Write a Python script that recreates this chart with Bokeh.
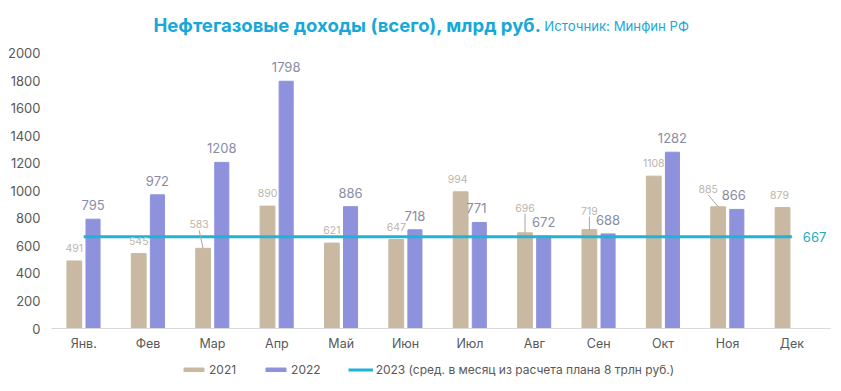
from bokeh.plotting import figure
from bokeh.layouts import column
from bokeh.models import FixedTicker, Range1d, Label, Legend, LegendItem
from bokeh.core.properties import value
from bokeh.embed import file_html
from bokeh.resources import INLINE

months = ["Янв.", "Фев", "Мар", "Апр", "Май", "Июн", "Июл", "Авг", "Сен", "Окт", "Ноя", "Дек"]
rev_2021 = [491, 545, 583, 890, 621, 647, 994, 696, 719, 1108, 885, 879]
rev_2022 = [795, 972, 1208, 1798, 886, 718, 771, 672, 688, 1282, 866]
plan_2023 = 667
y_ticks = list(range(0, 2001, 200))
series_names = ["2021", "2022", "2023 (сред. в месяц из расчета плана 8 трлн руб.)"]

# label nudges (pixels) for 2021 data labels
nudge21_dx = [0, 0, -4, 0, 0, 0, -3, 0, 0, 0, -10, -3]
nudge21_dy = [0, 0, -11, 0, 0, 0, 0, -12, -6, 0, -5, 0]
nudge22_dx = [0, 0, 0, 0, 0, 0, -3, 0, 0, 0, -3]

FONT = "Inter"
C21 = "#c9b9a2"
C22 = "#8e92dc"
CLINE = "#1fb3d5"
OFF = 0.145
BW = 0.23

X_END = 11.6
Y_END = 2327

p = figure(frame_width=779, frame_height=320,
           x_range=Range1d(-0.5, X_END), y_range=Range1d(0, Y_END),
           min_border_left=51, min_border_right=3, min_border_top=8, min_border_bottom=0,
           output_backend="svg", toolbar_location=None)
p.outline_line_color = None
p.xgrid.visible = False
p.ygrid.visible = False

x21 = [i - OFF for i in range(len(rev_2021))]
x22 = [i + OFF for i in range(len(rev_2022))]

r21 = p.vbar(x=x21, top=rev_2021, width=BW, color=C21)
r22 = p.vbar(x=x22, top=rev_2022, width=BW * 0.95, color=C22)
rl = p.line(x=[0, len(months) - 1], y=[plan_2023, plan_2023], line_width=3, color=CLINE)

# leader lines for nudged labels
px_per_x = 64.4
px_per_y = 0.1375
lx0, ly0, lx1, ly1 = [], [], [], []
for i, v in enumerate(rev_2021):
    if nudge21_dy[i] < -4:
        lx0.append(x21[i]); ly0.append(v)
        lx1.append(x21[i] + nudge21_dx[i] / px_per_x)
        ly1.append(v + (13 + (-nudge21_dy[i]) - 6) / px_per_y)
p.segment(x0=lx0, y0=ly0, x1=lx1, y1=ly1, line_color="#a6a6a6", line_width=1)

p.text(x=x21, y=rev_2021, text=[str(v) for v in rev_2021],
       x_offset=nudge21_dx, y_offset=[-13 + d for d in nudge21_dy],
       text_align="center", text_baseline="middle",
       text_font=value(FONT), text_font_size="10.5px", text_color="#bdb5aa")
p.text(x=x22, y=rev_2022, text=[str(v) for v in rev_2022],
       x_offset=nudge22_dx, y_offset=-14,
       text_align="center", text_baseline="middle",
       text_font=value(FONT), text_font_size="13px", text_color="#8a8ca6")

p.add_layout(Label(x=len(months) - 1, y=plan_2023, x_offset=11, text=str(plan_2023),
                   text_baseline="middle", text_font=FONT, text_font_size="13px",
                   text_color="#2aa7c0"))

# title
p.add_layout(Label(x=1.084, y=2204, text="Нефтегазовые доходы (всего), млрд руб.",
                   text_baseline="middle", text_font=FONT, text_font_size="18.5px",
                   text_font_style="bold", text_color="#17a8d8"))
p.add_layout(Label(x=7.155, y=2200, text="Источник: Минфин РФ",
                   text_baseline="middle", text_font=FONT, text_font_size="13.2px",
                   text_color="#17a8d8"))

p.xaxis.ticker = FixedTicker(ticks=list(range(len(months))))
p.xaxis.major_label_overrides = {i: m for i, m in enumerate(months)}
p.xaxis.axis_line_color = "#d9d9d9"
p.xaxis.major_tick_line_color = None
p.xaxis.major_tick_out = 0
p.xaxis.major_tick_in = 0
p.xaxis.minor_tick_line_color = None
p.xaxis.major_label_standoff = 7
p.xaxis.major_label_text_font = FONT
p.xaxis.major_label_text_font_size = "12.5px"
p.xaxis.major_label_text_color = "#595959"

p.yaxis.ticker = FixedTicker(ticks=y_ticks)
p.yaxis.axis_line_color = None
p.yaxis.major_tick_line_color = None
p.yaxis.major_tick_out = 0
p.yaxis.major_tick_in = 0
p.yaxis.minor_tick_line_color = None
p.yaxis.major_label_standoff = 11
p.yaxis.major_label_text_font = FONT
p.yaxis.major_label_text_font_size = "13px"
p.yaxis.major_label_text_color = "#595959"

# legend strip below the chart (key renderers sit outside the strip's visible range)
lg = figure(width=833, height=28, x_range=Range1d(0, 1), y_range=Range1d(0, 1),
            x_axis_type=None, y_axis_type=None, min_border=0,
            output_backend="svg", toolbar_location=None)
lg.outline_line_color = None
k21 = lg.vbar(x=[-5], top=[-5], width=0.1, color=C21)
k22 = lg.vbar(x=[-5], top=[-5], width=0.1, color=C22)
kl = lg.line(x=[-5, -4], y=[-5, -5], line_width=3, color=CLINE)
legend = Legend(items=[LegendItem(label=series_names[0], renderers=[k21]),
                       LegendItem(label=series_names[1], renderers=[k22]),
                       LegendItem(label=series_names[2], renderers=[kl])],
                orientation="horizontal", location=(130, 4),
                glyph_width=25, glyph_height=5, label_height=14, label_standoff=3, spacing=27,
                padding=0, margin=0, border_line_color=None, background_fill_alpha=0,
                label_text_font=FONT, label_text_font_size="12px", label_text_color="#595959")
lg.add_layout(legend, "center")

page = column(p, lg, spacing=0)
open("out.html", "w").write(file_html(page, INLINE))
